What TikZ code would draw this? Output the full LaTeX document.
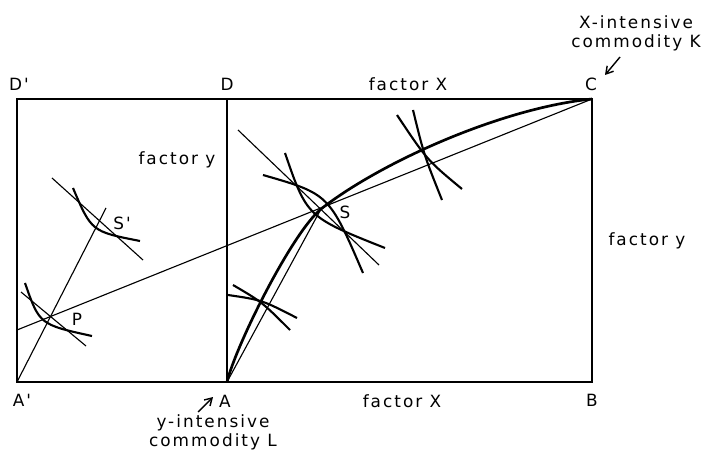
\documentclass[tikz,border=0pt]{standalone}
\usepackage{fontspec}
\newfontfamily\lettering[LetterSpace=12]{DejaVu Sans}
\usetikzlibrary{arrows.meta,positioning}

\begin{document}
\begin{tikzpicture}[
  x=0.025cm, y=-0.025cm,
  frame/.style={line width=1.1pt},
  thinline/.style={line width=0.8pt},
  indiff/.style={line width=1.5pt},
  contract/.style={line width=1.9pt},
  lbl/.style={font=\lettering\fontsize{12}{14.4}\selectfont, inner sep=0pt, anchor=base},
  twoline/.style={font=\lettering\fontsize{12}{13.6}\selectfont, inner sep=0pt, align=center},
  pointer/.style={-{Straight Barb[length=5pt,width=6pt]}, line width=1pt}
]
\useasboundingbox (0,0) rectangle (708,451);

% corners of the two boxes
\coordinate (Ap) at (17,382);
\coordinate (Dp) at (17,99);
\coordinate (A) at (227,382);
\coordinate (D) at (227,99);
\coordinate (B) at (592,382);
\coordinate (C) at (592,99);
% points of tangency
\coordinate (S) at (321,209);
\coordinate (Sp) at (99,223);
\coordinate (P) at (49,317);
\coordinate (edge) at (17,330);
\coordinate (rayend) at (106,208);

\draw[frame] (Dp) rectangle (B);
\draw[frame] (D) -- (A);

\draw[thinline] (C) -- (edge);
\draw[thinline] (A) -- (S);
\draw[thinline] (Ap) -- (rayend);

% contract curve
\draw[contract] (A) .. controls (236,345) and (292,233) .. (S)
  .. controls (381,162) and (502,108) .. (C);

% indifference curves at S
\draw[thinline] (238,130) -- (379,265);
\draw[indiff] (285,153) .. controls (307,217) .. (385,248);
\draw[indiff] (263,175) .. controls (329,194) .. (363,273);

% at S'
\draw[thinline] (52,178) -- (143,260);
\draw[indiff] (73,188) .. controls (91.5,231.5) .. (140,241);

% at P
\draw[thinline] (21,292) -- (86,346);
\draw[indiff] (25,283) .. controls (39.5,324.5) .. (92,336);

% crossings on the contract curve
\draw[indiff] (233,285) .. controls (262,302) .. (290,330);
\draw[indiff] (228,295) .. controls (262,300) .. (297,318);
\draw[indiff] (397,115) .. controls (427,160) .. (462,189);
\draw[indiff] (413,110) .. controls (424,155) .. (442,200);

% labels
\node[lbl] (labDp) at (19,91) {D'};
\node[lbl] (labD) at (227,91) {D};
\node[lbl] (labXtop) at (408,91) {factor X};
\node[lbl] (labC) at (591,91) {C};
\node[lbl] (labyleft) at (177,165) {factor y};
\node[lbl] (labyright) at (647,246) {factor y};
\node[lbl] (labS) at (345,219) {S};
\node[lbl] (labSp) at (122,230) {S'};
\node[lbl] (labP) at (77,325) {P};
\node[lbl] (labAp) at (22,406) {A'};
\node[lbl] (labA) at (225,407) {A};
\node[lbl] (labXbot) at (402,407) {factor X};
\node[lbl] (labB) at (592,406) {B};
\node[twoline] (labK) at (636,33) {X-intensive\\commodity K};
\node[twoline] (labL) at (213,432) {y-intensive\\commodity L};

% pointers to the commodity corners
\coordinate (tailK) at (620,57);
\coordinate (headK) at (605,75);
\coordinate (tailL) at (198,412);
\coordinate (headL) at (213,397);
\draw[pointer] (tailK) -- (headK);
\draw[pointer] (tailL) -- (headL);

\end{tikzpicture}
\end{document}
